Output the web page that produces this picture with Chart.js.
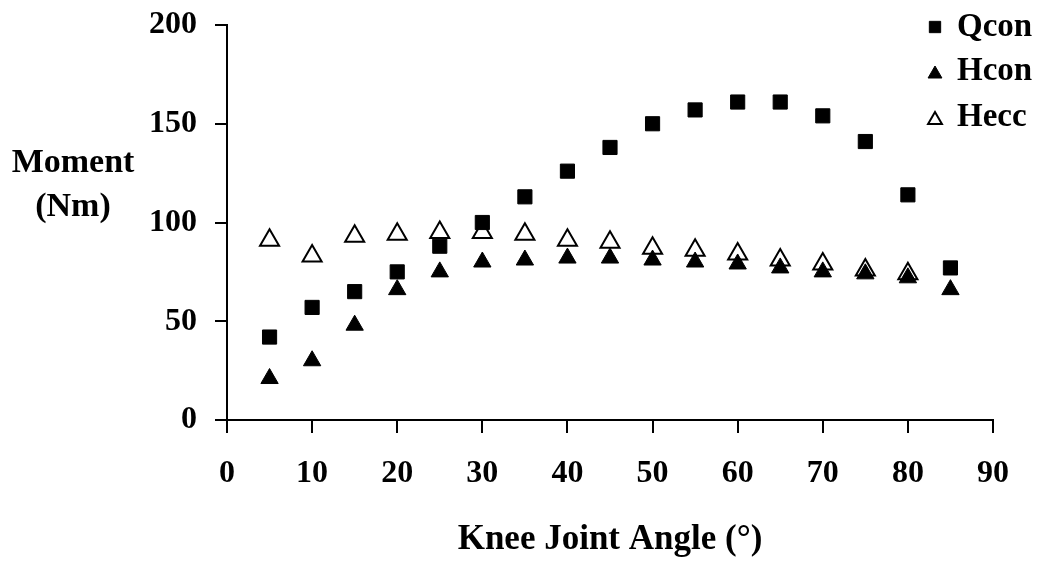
<!DOCTYPE html>
<html>
<head>
<meta charset="utf-8">
<script src="https://cdn.jsdelivr.net/npm/chart.js@4.4.0/dist/chart.umd.min.js"></script>
<style>
  html, body { margin: 0; padding: 0; background: #fff; }
  #wrap { width: 1042px; height: 561px; }
</style>
</head>
<body>
<div id="wrap"><canvas id="momentChart" width="1042" height="561"></canvas></div>
<script>
// knee angle (deg) and moments (Nm)
const angles = [5, 10, 15, 20, 25, 30, 35, 40, 45, 50, 55, 60, 65, 70, 75, 80, 85];
const qcon = [42, 57, 65, 75, 88, 100, 113, 126, 138, 150, 157, 161, 161, 154, 141, 114, 77];
const hcon = [21, 30, 48, 66, 75, 80, 81, 82, 82, 81, 80, 79, 77, 75, 74, 72, 66];
const hecc = [91, 83, 93, 94, 95, 95, 94, 91, 90, 87, 86, 84, 81, 79, 76, 74];
const xTicks = [0, 10, 20, 30, 40, 50, 60, 70, 80, 90];
const yTicks = [0, 50, 100, 150, 200];
const seriesNames = ['Qcon', 'Hcon', 'Hecc'];

const FONT = "'Liberation Serif', 'Times New Roman', serif";

function toPoints(values) {
    return values.map((v, i) => ({ x: angles[i], y: v }));
}

// horizontal two-line y title, left of the ticks
const yTitlePlugin = {
    id: 'yTitle',
    afterDraw(chart) {
        const ctx = chart.ctx;
        ctx.save();
        ctx.fillStyle = '#000';
        ctx.font = `bold 34px ${FONT}`;
        ctx.textAlign = 'center';
        ctx.textBaseline = 'middle';
        ctx.fillText('Moment', 73, 163);
        ctx.fillText('(Nm)', 73, 207);
        ctx.restore();
    }
};

function drawLegendMarker(ctx, ds, x, y) {
    ctx.fillStyle = ds.backgroundColor;
    ctx.strokeStyle = ds.borderColor;
    ctx.lineWidth = ds.borderWidth;
    Chart.helpers.drawPoint(ctx, { pointStyle: ds.pointStyle, radius: 8, borderWidth: ds.borderWidth, rotation: 0 }, x, y);
}

// legend stacked in the top-right corner
const cornerLegend = {
    id: 'cornerLegend',
    afterDraw(chart) {
        const c = chart.ctx;
        const rows = [27, 71, 117];
        c.save();
        chart.data.datasets.forEach((ds, i) => {
            const tri = ds.pointStyle === 'triangle';
            drawLegendMarker(c, ds, 935, tri ? rows[i] + 3 : rows[i]);
        });
        c.fillStyle = '#000';
        c.font = `bold 33px ${FONT}`;
        c.textAlign = 'left';
        c.textBaseline = 'middle';
        chart.data.datasets.forEach((ds, i) => {
            c.fillText(ds.label, 957, rows[i]);
        });
        c.restore();
    }
};

const ctx = document.getElementById('momentChart').getContext('2d');
new Chart(ctx, {
    type: 'scatter',
    data: {
        datasets: [
            {
                label: seriesNames[0],
                data: toPoints(qcon),
                pointStyle: 'rect',
                pointRadius: 10,
                backgroundColor: '#000',
                borderColor: '#000',
                borderWidth: 1
            },
            {
                label: seriesNames[1],
                data: toPoints(hcon),
                pointStyle: 'triangle',
                pointRadius: 10,
                backgroundColor: '#000',
                borderColor: '#000',
                borderWidth: 1
            },
            {
                label: seriesNames[2],
                data: toPoints(hecc),
                pointStyle: 'triangle',
                pointRadius: 11,
                backgroundColor: '#fff',
                borderColor: '#000',
                borderWidth: 2
            }
        ]
    },
    options: {
        responsive: false,
        animation: false,
        devicePixelRatio: 1,
        layout: { padding: { left: 0, top: 25, right: 49, bottom: 0 } },
        plugins: {
            legend: { display: false },
            tooltip: { enabled: false }
        },
        scales: {
            x: {
                type: 'linear',
                min: 0,
                max: 90,
                afterBuildTicks: s => { s.ticks = xTicks.map(v => ({ value: v })); },
                afterFit: s => { s.height = 141; },
                grid: { drawOnChartArea: false, tickLength: 13, color: '#000', lineWidth: 2 },
                border: { color: '#000', width: 2 },
                ticks: { color: '#000', font: { family: FONT, size: 32, weight: 'bold' }, padding: 22, maxRotation: 0 },
                title: {
                    display: true,
                    text: 'Knee Joint Angle (°)',
                    color: '#000',
                    font: { family: FONT, size: 35, weight: 'bold' },
                    padding: { top: 0, bottom: 0 }
                }
            },
            y: {
                min: 0,
                max: 200,
                afterBuildTicks: s => { s.ticks = yTicks.map(v => ({ value: v })); },
                afterFit: s => {
                    s.width = 227;
                    s.paddingTop = 0;
                    s.paddingBottom = 0;
                },
                grid: { drawOnChartArea: false, tickLength: 12, color: '#000', lineWidth: 2 },
                border: { color: '#000', width: 2 },
                ticks: { color: '#000', font: { family: FONT, size: 32, weight: 'bold' }, padding: 18 }
            }
        }
    },
    plugins: [yTitlePlugin, cornerLegend]
});
</script>
</body>
</html>
